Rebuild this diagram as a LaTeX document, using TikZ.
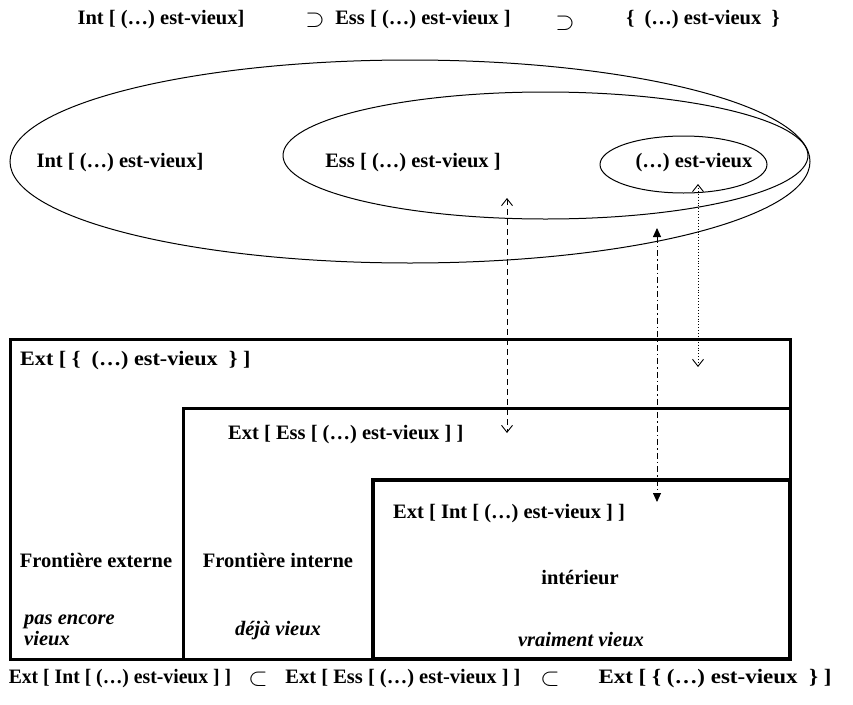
\documentclass[tikz,border=0pt]{standalone}
\usepackage{fontspec}
\usepackage{graphicx}
\setmainfont{Liberation Serif}
\usetikzlibrary{shapes.geometric,arrows.meta}
\begin{document}
\begin{tikzpicture}[x=1pt,y=-1pt,
  lbl/.style={font=\fontsize{20.5}{24}\selectfont\bfseries, inner sep=0pt},
  ilbl/.style={font=\fontsize{20.5}{21}\selectfont\bfseries\itshape, inner sep=0pt, align=left},
  sym/.style={font=\fontsize{25}{26}\selectfont, inner sep=0pt},
  ell/.style={draw, ellipse, line width=1pt, inner sep=0pt},
  boxA/.style={draw, line width=3pt},
  boxB/.style={draw, line width=3.8pt},
  openhead/.style={{Straight Barb[length=7pt,width=11pt]}-{Straight Barb[length=7pt,width=11pt]}},
  fillhead/.style={{Triangle[length=9pt,width=8pt]}-{Triangle[length=9pt,width=8pt]}}
]
\useasboundingbox (0,0) rectangle (853,704);

% top line
\node[lbl] (t1) at (161,20) {Int [ (…) est-vieux]};
\node[sym] (s1) at (315,20) {$\supset$};
\node[lbl] (t2) at (423,20) {Ess [ (…) est-vieux ]};
\node[sym] (s2) at (565,23) {$\supset$};
\node[lbl] (t3) at (703,20) {\{ \ (…) est-vieux \ \}};

% ellipses
\node[ell, minimum width=800pt, minimum height=203pt] (e1) at (410,161.5) {};
\node[ell, minimum width=525pt, minimum height=127pt] (e2) at (545.5,155.5) {};
\node[ell, minimum width=167pt, minimum height=57pt] (e3) at (683.5,164.5) {};
\node[lbl] (le1) at (120,163) {Int [ (…) est-vieux]};
\node[lbl] (le2) at (413,163) {Ess [ (…) est-vieux ]};
\node[lbl] (le3) at (694,163) {(…) est-vieux};

% boxes
\draw[boxA] (10,339) rectangle (790,659);
\draw[boxA] (183,408) rectangle (790,659);
\draw[boxB] (373,480) rectangle (790,659);

\node[lbl, anchor=west] (lb1) at (20,361) {\scalebox{1.08}[1]{Ext [ \{ \ (…) est-vieux \ \} ]}};
\node[lbl, anchor=west] (lb2) at (228,435) {Ext [ Ess [ (…) est-vieux ] ]};
\node[lbl, anchor=west] (lb3) at (393,514) {Ext [ Int [ (…) est-vieux ] ]};

\node[lbl] (fe) at (96,560) {Frontière externe};
\node[lbl] (fi) at (278,560) {Frontière interne};
\node[lbl] (in) at (580,577) {intérieur};

\node[ilbl, anchor=north west] (pe) at (24,615) {pas encore\\vieux};
\node[ilbl] (dv) at (278,631) {déjà vieux};
\node[ilbl] (vv) at (581,639) {vraiment vieux};

% bottom line
\node[lbl] (u1) at (120,679) {\scalebox{0.96}[1]{Ext [ Int [ (…) est-vieux ] ]}};
\node[sym] (v1) at (258,679) {$\subset$};
\node[lbl] (u2) at (403,679) {Ext [ Ess [ (…) est-vieux ] ]};
\node[sym] (v2) at (550,679) {$\subset$};
\node[lbl] (u3) at (715,679) {\scalebox{1.12}[1]{Ext [ \{ (…) est-vieux \ \} ]}};

% arrows
\coordinate (a1s) at (507,198);
\coordinate (a1e) at (507,433);
\coordinate (a2s) at (657,228);
\coordinate (a2e) at (657,502);
\coordinate (a3s) at (698,184);
\coordinate (a3e) at (698,367);
\draw[openhead, line width=0.9pt, dash pattern=on 6pt off 4pt] (a1s) -- (a1e);
\draw[fillhead, line width=0.9pt, dash pattern=on 6pt off 3pt on 1.5pt off 3pt] (a2s) -- (a2e);
\draw[openhead, line width=0.9pt, dotted] (a3s) -- (a3e);
\end{tikzpicture}
\end{document}
